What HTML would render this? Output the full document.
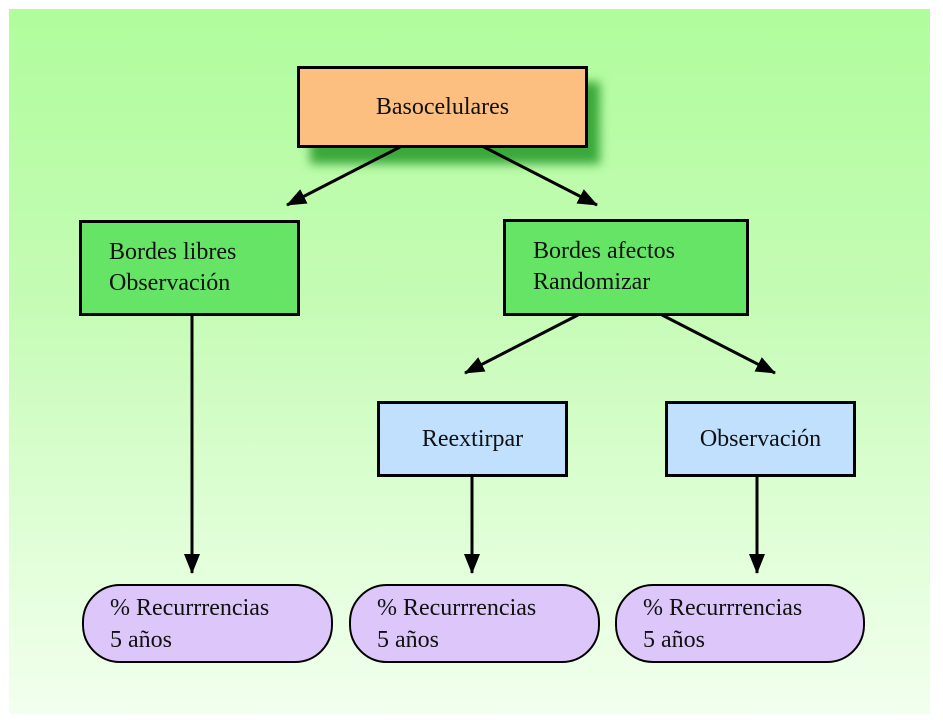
<!DOCTYPE html>
<html><head><meta charset="utf-8"><style>
body{margin:0;width:943px;height:724px;background:#fff;position:relative;overflow:hidden;font-family:"Liberation Serif",serif;}
.bg{position:absolute;left:9px;top:9px;width:921px;height:705px;background:linear-gradient(#b0fd9c,#c4fbb4 40%,#e4ffdc 80%,#f2ffee);}
.b{position:absolute;box-sizing:border-box;border:3px solid #000;font-size:24px;color:#111;}
.c{display:flex;align-items:center;justify-content:center;}
.p{background:#dcc6fa;border-radius:38px;border:2px solid #000;padding:6px 0 0 26px;line-height:32px;}
svg{position:absolute;left:0;top:0;}
</style></head><body>
<div class="bg"></div>
<svg width="943" height="724">
<defs><marker id="a" markerWidth="10" markerHeight="8" refX="9" refY="4" orient="auto" markerUnits="userSpaceOnUse" viewBox="0 0 10 8"><path d="M0,0L10,4L0,8Z"/></marker>
<marker id="m" viewBox="0 0 20 16" markerWidth="20" markerHeight="16" refX="19" refY="8" orient="auto" markerUnits="userSpaceOnUse"><path d="M0,0L20,8L0,16Z" fill="#000"/></marker>
<filter id="s" x="-20%" y="-20%" width="140%" height="160%"><feGaussianBlur stdDeviation="5"/></filter></defs>
<rect x="310" y="82" width="290" height="82" fill="#3aa83a" filter="url(#s)"/>
<g stroke="#000" stroke-width="3" fill="none">
<line x1="400" y1="147" x2="287" y2="205" marker-end="url(#m)"/>
<line x1="484" y1="147" x2="597" y2="205" marker-end="url(#m)"/>
<line x1="578" y1="315" x2="465" y2="373" marker-end="url(#m)"/>
<line x1="662" y1="315" x2="775" y2="373" marker-end="url(#m)"/>
<line x1="192" y1="315" x2="192" y2="573" marker-end="url(#m)"/>
<line x1="472" y1="476" x2="472" y2="573" marker-end="url(#m)"/>
<line x1="757" y1="476" x2="757" y2="573" marker-end="url(#m)"/>
</g></svg>
<div class="b c" style="left:297px;top:66px;width:291px;height:82px;background:#fdbf80;">Basocelulares</div>
<div class="b" style="left:79px;top:220px;width:221px;height:96px;background:#66e466;padding:14px 0 0 27px;line-height:31px;">Bordes libres<br>Observación</div>
<div class="b" style="left:503px;top:219px;width:246px;height:97px;background:#66e466;padding:14px 0 0 27px;line-height:31px;">Bordes afectos<br>Randomizar</div>
<div class="b c" style="left:377px;top:401px;width:191px;height:76px;background:#c0e0fd;">Reextirpar</div>
<div class="b c" style="left:665px;top:401px;width:191px;height:76px;background:#c0e0fd;">Observación</div>
<div class="b p" style="left:82px;top:584px;width:251px;height:79px;">% Recurrrencias<br>5 años</div>
<div class="b p" style="left:349px;top:584px;width:251px;height:79px;">% Recurrrencias<br>5 años</div>
<div class="b p" style="left:615px;top:584px;width:250px;height:79px;">% Recurrrencias<br>5 años</div>
</body></html>
